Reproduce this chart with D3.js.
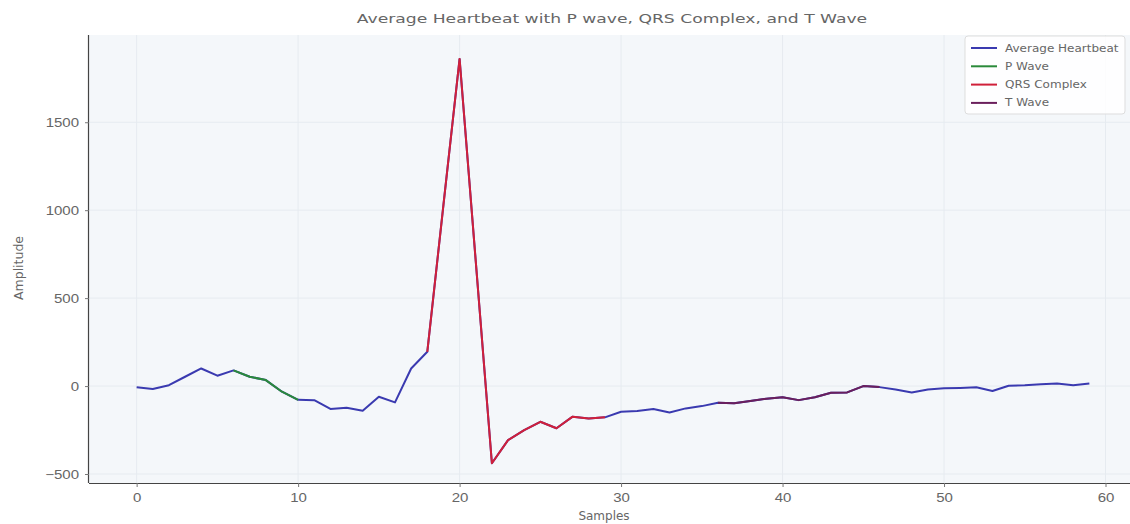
<!DOCTYPE html>
<html>
<head>
<meta charset="utf-8">
<script src="https://cdn.jsdelivr.net/npm/d3@7"></script>
<style>
  body { margin: 0; background: #fff; font-family: "DejaVu Sans", sans-serif; }
  svg text { fill: #666; }
</style>
</head>
<body>
<svg id="chart" width="1130" height="524"></svg>
<script>
// average heartbeat, one value per sample
let amplitude = [
  -7, -17, 5, 53, 100, 59, 89, 53, 34, -32,
  -78, -80, -130, -123, -140, -61, -93, 100, 195, 1030,
  1860, 710, -439, -307, -250, -203, -240, -174, -184, -178,
  -146, -142, -131, -150, -127, -114, -95, -98, -85, -72,
  -64, -80, -64, -38, -36, 0, -6, -19, -36, -19,
  -13, -11, -7, -28, 2, 4, 11, 15, 4, 15
]
let pWave = [6, 10]      // start / end sample
let qrsComplex = [18, 29]
let tWave = [36, 46]

let xTicks = [0, 10, 20, 30, 40, 50, 60]
let yTicks = [-500, 0, 500, 1000, 1500]

let seriesNames = ['Average Heartbeat', 'P Wave', 'QRS Complex', 'T Wave']
let seriesColors = ['#3a3ab0', '#2a8a3a', '#d0203a', '#6a1f5c']

let svg = d3.select('#chart')
let margin = { left: 89, top: 35, bottom: 483 }

let x = d3.scaleLinear().domain([-2.95, 61.95]).range([margin.left, 1137])
let y = d3.scaleLinear().domain([-554, 1979]).range([483.5, 38])

// the picture is a bit wider than tall, text looks stretched sideways
function stretch(sel, k) {
  sel.each(function() {
    let w = this.getComputedTextLength()
    d3.select(this).attr('textLength', w * k).attr('lengthAdjust', 'spacingAndGlyphs')
  })
}

// plot background
svg.append('rect')
  .attr('x', margin.left).attr('y', margin.top)
  .attr('width', 1130 - margin.left).attr('height', margin.bottom - margin.top)
  .attr('fill', '#f4f7fa')

// grid
svg.append('g').selectAll('line').data(xTicks).enter().append('line')
  .attr('x1', d => x(d)).attr('x2', d => x(d))
  .attr('y1', margin.top).attr('y2', margin.bottom)
  .attr('stroke', '#e6ebf0').attr('stroke-width', 1)
svg.append('g').selectAll('line').data(yTicks).enter().append('line')
  .attr('x1', margin.left).attr('x2', 1130)
  .attr('y1', d => y(d)).attr('y2', d => y(d))
  .attr('stroke', '#e6ebf0').attr('stroke-width', 1)

// axes
let xAxis = svg.append('g')
  .attr('transform', `translate(0,${margin.bottom})`)
  .call(d3.axisBottom(x).tickValues(xTicks).tickSize(4).tickPadding(6).tickFormat(d3.format('d')))
xAxis.select('.domain').attr('d', `M${margin.left},0.5H1130`)
let yAxis = svg.append('g')
  .attr('transform', `translate(${margin.left},0)`)
  .call(d3.axisLeft(y).tickValues(yTicks).tickSize(4).tickPadding(6)
    .tickFormat(d => d < 0 ? '\u2212' + Math.abs(d) : d))
yAxis.select('.domain').attr('d', `M-0.5,${margin.top}V${margin.bottom}`)

svg.selectAll('.domain').attr('stroke', '#444').attr('stroke-width', 1.2)
svg.selectAll('.tick line').attr('stroke', '#777')
svg.selectAll('.tick text').attr('font-size', 12.5).attr('fill', '#666')
stretch(svg.selectAll('.tick text'), 1.2)

svg.append('text')
  .attr('x', 604).attr('y', 520).attr('text-anchor', 'middle')
  .attr('font-size', 12).text('Samples')
svg.append('text')
  .attr('transform', 'translate(23,268) rotate(-90)')
  .attr('text-anchor', 'middle').attr('font-size', 12.5).text('Amplitude')
let title = svg.append('text')
  .attr('x', 612).attr('y', 23).attr('text-anchor', 'middle')
  .attr('font-size', 13).attr('fill', '#555')
  .text('Average Heartbeat with P wave, QRS Complex, and T Wave')
stretch(title, 1.32)

// lines
let line = d3.line().x(d => x(d.i)).y(d => y(d.v))
let points = amplitude.map((v, i) => ({ i, v }))
let segment = r => points.slice(r[0], r[1] + 1)

let segs = [points, segment(pWave), segment(qrsComplex), segment(tWave)]
svg.append('g').selectAll('path').data(segs).enter().append('path')
  .attr('d', line)
  .attr('fill', 'none')
  .attr('stroke', (d, i) => seriesColors[i])
  .attr('stroke-width', 2)
  .attr('stroke-linejoin', 'round')

// legend
let legend = svg.append('g').attr('transform', 'translate(965,36)')
legend.append('rect')
  .attr('width', 160).attr('height', 78).attr('rx', 3)
  .attr('fill', '#fff').attr('fill-opacity', 0.85)
  .attr('stroke', '#ddd')
let items = legend.selectAll('.item').data(seriesNames).enter().append('g')
  .attr('transform', (d, i) => `translate(0,${12 + i * 18.3})`)
items.append('line')
  .attr('x1', 6).attr('x2', 32)
  .attr('stroke', (d, i) => seriesColors[i]).attr('stroke-width', 2)
let labels = items.append('text')
  .attr('x', 40).attr('y', 3.5)
  .attr('font-size', 10).attr('fill', '#666')
  .text(d => d)
stretch(labels, 1.2)
</script>
</body>
</html>
